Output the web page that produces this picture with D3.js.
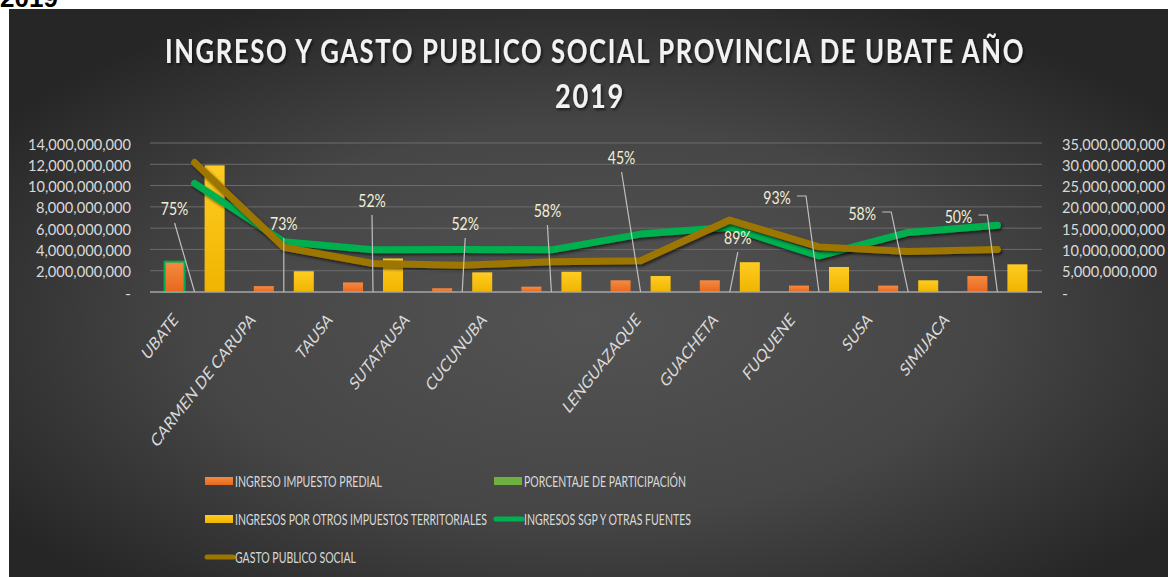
<!DOCTYPE html>
<html>
<head>
<meta charset="utf-8">
<script src="https://cdn.jsdelivr.net/npm/d3@7"></script>
<style>
  body { margin: 0; background: #fff; overflow: hidden; }
  svg { display: block; }
  text { font-family: Lato, "Open Sans", sans-serif; }
  .tick-label { font-size: 16px; fill: #d9d9d9; }
  .cat-label { font-size: 18px; fill: #d9d9d9; }
  .pct-label { font-size: 18px; fill: #f2efd6; }
  .legend-text { font-size: 16px; fill: #d9d9d9; }
</style>
</head>
<body>
<div class="chart"></div>
<script>
// data
var municipios = ["UBATE", "CARMEN DE CARUPA", "TAUSA", "SUTATAUSA", "CUCUNUBA",
  "LENGUAZAQUE", "GUACHETA", "FUQUENE", "SUSA", "SIMIJACA"];
var predial = [2850000000, 550000000, 900000000, 350000000, 500000000,
  1100000000, 1100000000, 600000000, 600000000, 1500000000];
var porcentaje = [0.75, 0.73, 0.52, 0.52, 0.58, 0.45, 0.89, 0.93, 0.58, 0.50];
var otrosImpuestos = [11900000000, 1950000000, 3150000000, 1850000000, 1900000000,
  1500000000, 2800000000, 2350000000, 1100000000, 2600000000];
var sgp = [25500000000, 11800000000, 9900000000, 10000000000, 9900000000,
  13600000000, 15200000000, 8500000000, 14000000000, 15700000000];
var gasto = [30400000000, 10500000000, 6700000000, 6300000000, 7100000000,
  7350000000, 16900000000, 10600000000, 9500000000, 10000000000];
var leftTicks = [0, 2e9, 4e9, 6e9, 8e9, 10e9, 12e9, 14e9];
var rightTicks = [0, 5e9, 10e9, 15e9, 20e9, 25e9, 30e9, 35e9];

// where each percent label was dragged to, relative to its bar (layout only)
var pctLabelOffset = [[-20, -83], [0, -68], [-1, -91], [3, -68], [-4, -81],
  [-19, -134], [8, -54], [-42, -94], [-46, -78], [-39, -75]];

var svgWidth = 1168;
var svgHeight = 577;
var plot = { left: 150, right: 1042, top: 143, bottom: 292 };
// the original picture is squeezed sideways, text included
var squeeze = 0.78;

var colors = {
  predial: "#f07828",
  pct: "#6fb043",
  otros: "#ffc000",
  sgp: "#00b050",
  gasto: "#9c7600"
};

var svg = d3.select(".chart")
  .append("svg")
  .attr("width", svgWidth)
  .attr("height", svgHeight);

var defs = svg.append("defs");

var bg = defs.append("radialGradient")
  .attr("id", "bg")
  .attr("cx", "50%").attr("cy", "55%").attr("r", "62%");
bg.append("stop").attr("offset", "0%").attr("stop-color", "#535353");
bg.append("stop").attr("offset", "55%").attr("stop-color", "#464646");
bg.append("stop").attr("offset", "100%").attr("stop-color", "#262626");

function barGradient(id, top, bottom) {
  var g = defs.append("linearGradient").attr("id", id)
    .attr("x1", 0).attr("y1", 0).attr("x2", 0).attr("y2", 1);
  g.append("stop").attr("offset", "0%").attr("stop-color", top);
  g.append("stop").attr("offset", "100%").attr("stop-color", bottom);
}
barGradient("gPredial", "#f58a42", "#e8681c");
barGradient("gOtros", "#ffcc22", "#f0b400");

var shadow = defs.append("filter").attr("id", "shadow")
  .attr("x", "-10%").attr("y", "-30%").attr("width", "120%").attr("height", "160%");
shadow.append("feDropShadow")
  .attr("dx", 1.5).attr("dy", 2).attr("stdDeviation", 1.5)
  .attr("flood-color", "#000").attr("flood-opacity", 0.6);

// cut-off heading above the chart image
svg.append("text")
  .attr("x", 0).attr("y", 7)
  .style("font-family", "Liberation Sans, Arial, sans-serif")
  .attr("font-weight", "bold")
  .attr("font-size", 26)
  .attr("fill", "#000")
  .text("2019");

// chart background
svg.append("rect")
  .attr("x", 9).attr("y", 9)
  .attr("width", svgWidth - 9).attr("height", svgHeight - 9)
  .attr("fill", "url(#bg)");

// title
var title = svg.append("g")
  .attr("font-weight", "bold")
  .attr("font-size", 32)
  .attr("letter-spacing", 2)
  .attr("fill", "#f2f2f2")
  .attr("text-anchor", "middle")
  .attr("filter", "url(#shadow)");
title.append("text")
  .attr("x", 595).attr("y", 63)
  .attr("textLength", 860).attr("lengthAdjust", "spacingAndGlyphs")
  .text("INGRESO Y GASTO PUBLICO SOCIAL PROVINCIA DE UBATE AÑO");
title.append("text")
  .attr("x", 590).attr("y", 108)
  .attr("textLength", 70).attr("lengthAdjust", "spacingAndGlyphs")
  .text("2019");

// scales
var x = d3.scaleBand()
  .domain(municipios)
  .range([plot.left, plot.right])
  .paddingInner(0.327)
  .paddingOuter(0.1635);

var xSub = d3.scaleBand()
  .domain(["predial", "pct", "otros"])
  .range([0, x.bandwidth()]);

var yLeft = d3.scaleLinear().domain([0, 14e9]).range([plot.bottom, plot.top]);
var yRight = d3.scaleLinear().domain([0, 35e9]).range([plot.bottom, plot.top]);

// category labels sit on their own slots (one slot left empty after CUCUNUBA)
var labelSlot = d3.scaleLinear().domain([0, 10]).range([179, 950]);

function fmt(v) {
  return v === 0 ? "-" : d3.format(",")(v);
}

// width the squeezed tick text takes in the picture
function tickWidth(s) {
  if (s === "-") return 6;
  var digits = s.replace(/,/g, "").length;
  var commas = s.length - digits;
  return digits * 8 + commas * 5;
}

// gridlines
svg.append("g")
  .selectAll("line")
  .data(leftTicks.filter(function(d) { return d > 0; }))
  .enter()
  .append("line")
  .attr("x1", plot.left).attr("x2", plot.right)
  .attr("y1", function(d) { return yLeft(d); })
  .attr("y2", function(d) { return yLeft(d); })
  .attr("stroke", "#6c6c6c")
  .attr("stroke-width", 1);

// left axis
var leftAxis = d3.axisLeft(yLeft).tickValues(leftTicks).tickFormat(fmt).tickSize(0).tickPadding(0);
svg.append("g")
  .attr("transform", "translate(131,1)")
  .call(leftAxis)
  .call(function(g) { g.select(".domain").remove(); })
  .selectAll("text")
  .attr("class", "tick-label")
  .attr("font-family", null).attr("font-size", null).attr("fill", null)
  .attr("textLength", function() { return tickWidth(this.textContent); })
  .attr("lengthAdjust", "spacingAndGlyphs");

// right axis
var rightAxis = d3.axisRight(yRight).tickValues(rightTicks).tickFormat(fmt).tickSize(0).tickPadding(0);
svg.append("g")
  .attr("transform", "translate(1062,1)")
  .call(rightAxis)
  .call(function(g) { g.select(".domain").remove(); })
  .selectAll("text")
  .attr("class", "tick-label")
  .attr("font-family", null).attr("font-size", null).attr("fill", null)
  .attr("textLength", function() { return tickWidth(this.textContent); })
  .attr("lengthAdjust", "spacingAndGlyphs");

// bars
var bars = svg.append("g");

bars.selectAll(".bar-predial")
  .data(predial)
  .enter()
  .append("rect")
  .attr("class", "bar-predial")
  .attr("x", function(d, i) { return x(municipios[i]) + xSub("predial"); })
  .attr("y", function(d) { return yLeft(d); })
  .attr("width", xSub.bandwidth())
  .attr("height", function(d) { return yLeft(0) - yLeft(d); })
  .attr("fill", "url(#gPredial)")
  // the first bar is shown selected in the original
  .attr("stroke", function(d, i) { return i === 0 ? colors.sgp : "none"; })
  .attr("stroke-width", 2);

bars.selectAll(".bar-pct")
  .data(porcentaje)
  .enter()
  .append("rect")
  .attr("class", "bar-pct")
  .attr("x", function(d, i) { return x(municipios[i]) + xSub("pct"); })
  .attr("y", function(d) { return yLeft(d); })
  .attr("width", xSub.bandwidth())
  .attr("height", function(d) { return yLeft(0) - yLeft(d); })
  .attr("fill", colors.pct);

bars.selectAll(".bar-otros")
  .data(otrosImpuestos)
  .enter()
  .append("rect")
  .attr("class", "bar-otros")
  .attr("x", function(d, i) { return x(municipios[i]) + xSub("otros"); })
  .attr("y", function(d) { return yLeft(d); })
  .attr("width", xSub.bandwidth())
  .attr("height", function(d) { return yLeft(0) - yLeft(d); })
  .attr("fill", "url(#gOtros)");

// baseline
svg.append("line")
  .attr("x1", plot.left).attr("x2", plot.right)
  .attr("y1", yLeft(0)).attr("y2", yLeft(0))
  .attr("stroke", "#a6a6a6")
  .attr("stroke-width", 1.5);

// lines on the secondary axis
var line = d3.line()
  .x(function(d, i) { return x(municipios[i]) + x.bandwidth() / 2; })
  .y(function(d) { return yRight(d); });

svg.append("path")
  .datum(sgp)
  .attr("d", line)
  .attr("fill", "none")
  .attr("stroke", colors.sgp)
  .attr("stroke-width", 7)
  .attr("stroke-linejoin", "round")
  .attr("stroke-linecap", "round")
  .attr("filter", "url(#shadow)");

svg.append("path")
  .datum(gasto)
  .attr("d", line)
  .attr("fill", "none")
  .attr("stroke", colors.gasto)
  .attr("stroke-width", 7)
  .attr("stroke-linejoin", "round")
  .attr("stroke-linecap", "round")
  .attr("filter", "url(#shadow)");

// percentage labels with leader lines
var pctGroup = svg.append("g");
porcentaje.forEach(function(p, i) {
  var px = x(municipios[i]) + x.bandwidth() / 2;
  var py = yLeft(p);
  var cx = px + pctLabelOffset[i][0];
  var cy = py + pctLabelOffset[i][1];
  var pts;
  if (Math.abs(pctLabelOffset[i][0]) > 30) {
    // label off to the side: short horizontal stub then down to the bar
    pts = [[cx + 20, cy - 2], [cx + 29, cy - 2], [px, py]];
  } else {
    pts = [[cx, cy + 14], [px, py]];
  }
  pctGroup.append("path")
    .attr("d", d3.line()(pts))
    .attr("fill", "none")
    .attr("stroke", "#bfbfbf")
    .attr("stroke-width", 1.2);
  pctGroup.append("text")
    .attr("class", "pct-label")
    .attr("text-anchor", "middle")
    .attr("transform", "translate(" + cx + "," + (cy + 6) + ") scale(" + squeeze + ",1)")
    .text(d3.format(".0%")(p));
});

// rotated category labels
svg.append("g")
  .selectAll("text")
  .data(municipios)
  .enter()
  .append("text")
  .attr("class", "cat-label")
  .attr("text-anchor", "end")
  .attr("transform", function(d, i) {
    var slot = i < 5 ? i : i + 1;
    return "translate(" + labelSlot(slot) + ",321) scale(" + squeeze + ",1) rotate(-45)";
  })
  .text(function(d) { return d; });

// legend
var legendItems = [
  { name: "INGRESO IMPUESTO PREDIAL", type: "rect", color: "url(#gPredial)", col: 0, row: 0, w: 147 },
  { name: "PORCENTAJE DE PARTICIPACIÓN", type: "rect", color: colors.pct, col: 1, row: 0, w: 162 },
  { name: "INGRESOS POR OTROS IMPUESTOS TERRITORIALES", type: "rect", color: "url(#gOtros)", col: 0, row: 1, w: 252 },
  { name: "INGRESOS SGP Y OTRAS FUENTES", type: "line", color: colors.sgp, col: 1, row: 1, w: 167 },
  { name: "GASTO PUBLICO SOCIAL", type: "line", color: colors.gasto, col: 0, row: 2, w: 121 }
];
var legendCol = [205, 494];
var legendRow = [481, 519, 557];

var legend = svg.append("g")
  .selectAll("g")
  .data(legendItems)
  .enter()
  .append("g")
  .attr("transform", function(d) {
    return "translate(" + legendCol[d.col] + "," + legendRow[d.row] + ")";
  });

legend.filter(function(d) { return d.type === "rect"; })
  .append("rect")
  .attr("x", 0).attr("y", -4)
  .attr("width", 28).attr("height", 8)
  .attr("fill", function(d) { return d.color; });

legend.filter(function(d) { return d.type === "line"; })
  .append("line")
  .attr("x1", 2).attr("x2", 28)
  .attr("y1", 0).attr("y2", 0)
  .attr("stroke", function(d) { return d.color; })
  .attr("stroke-width", 5)
  .attr("stroke-linecap", "round");

legend.append("text")
  .attr("class", "legend-text")
  .attr("x", 30)
  .attr("y", 6)
  .attr("textLength", function(d) { return d.w; })
  .attr("lengthAdjust", "spacingAndGlyphs")
  .text(function(d) { return d.name; });
</script>
</body>
</html>
